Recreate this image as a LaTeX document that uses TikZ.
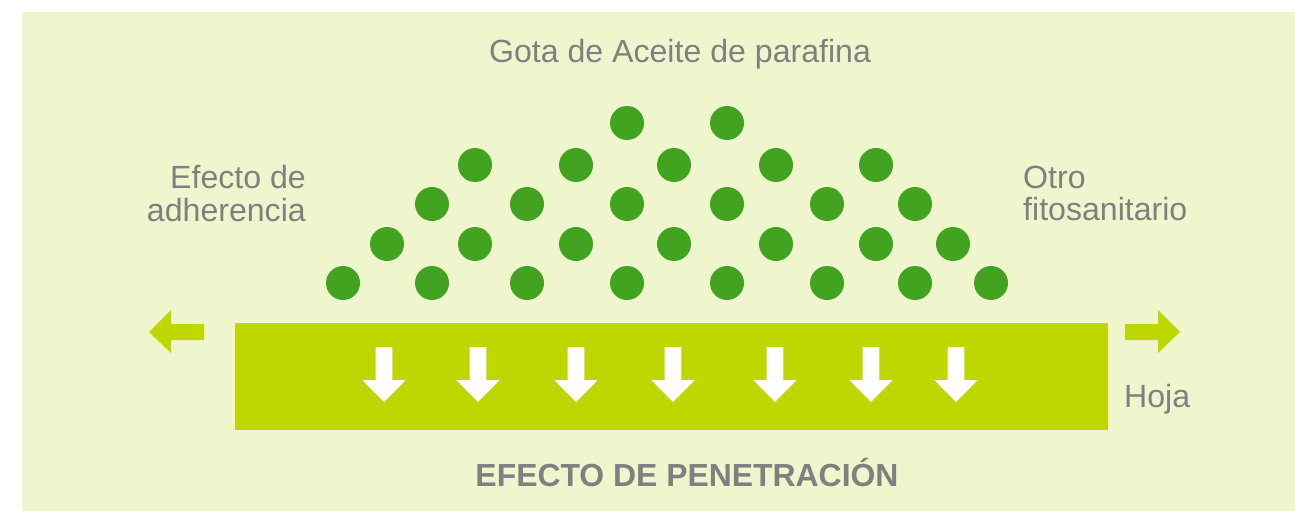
\documentclass[tikz,border=0pt]{standalone}
\usepackage{fontspec}
\setmainfont{Liberation Sans}
\definecolor{panel}{HTML}{EFF6CE}
\definecolor{dotgreen}{HTML}{42A321}
\definecolor{lime}{HTML}{BFD700}
\definecolor{txtgray}{HTML}{808080}
\begin{document}
\begin{tikzpicture}[x=1pt,y=-1pt,
  lbl/.style={inner sep=0pt, text=txtgray, font=\fontsize{32.1}{33}\selectfont},
  boldlbl/.style={inner sep=0pt, text=txtgray, font=\bfseries\fontsize{31.9}{33}\selectfont},
  dot/.style={circle, fill=dotgreen, minimum size=34pt, inner sep=0pt},
  leafbox/.style={fill=lime, inner sep=0pt, minimum width=873pt, minimum height=107pt},
  downarrow/.style={fill=white},
  sidearrow/.style={fill=lime}]
\useasboundingbox (0,0) rectangle (1295,511);
\fill[panel] (22,12) rectangle (1295,511);
% leaf
\node[leafbox, anchor=north west] (hoja) at (235,323) {};
% droplets
\foreach \x/\y [count=\i] in {627/123,727/123,
  475/165,576/165,674/165,776/165,876/165,
  432/204,527/204,627/204,727/204,827/204,915/204,
  387/244,475/244,576/244,674/244,776/244,876/244,953/244,
  343/283,432/283,527/283,627/283,727/283,827/283,915/283,991/283}
  \node[dot] (d\i) at (\x,\y) {};
% penetration arrows
\foreach \c in {384,478,576,673,775,871,956}
  \fill[downarrow] ({\c-8.3},347) -- ({\c+8.3},347) -- ({\c+8.3},380) -- ({\c+21.7},380)
     -- (\c,402) -- ({\c-21.7},380) -- ({\c-8.3},380) -- cycle;
% side arrows
\fill[sidearrow] (204,324) -- (171,324) -- (171,310) -- (149,332) -- (171,353) -- (171,340) -- (204,340) -- cycle;
\fill[sidearrow] (1125,324) -- (1158,324) -- (1158,310) -- (1180,332) -- (1158,353) -- (1158,340) -- (1125,340) -- cycle;
% labels
\node[lbl, anchor=base] (gota) at (680,63) {Gota de Aceite de parafina};
\node[lbl, anchor=base east] (ef1) at (306,188) {Efecto de};
\node[lbl, anchor=base east] (ef2) at (306,221.5) {adherencia};
\node[lbl, anchor=base west] (otro1) at (1023,188) {Otro};
\node[lbl, anchor=base west] (otro2) at (1023,220.5) {fitosanitario};
\node[lbl, anchor=base west] (hojatxt) at (1124,407) {Hoja};
\node[boldlbl, anchor=base] (pen) at (687,486) {EFECTO DE PENETRACIÓN};
\end{tikzpicture}
\end{document}
